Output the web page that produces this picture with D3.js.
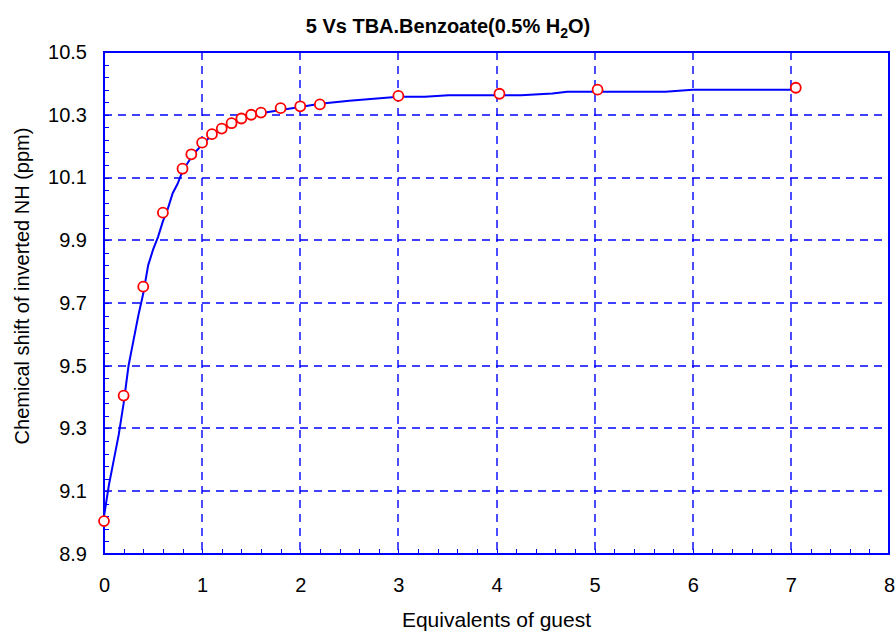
<!DOCTYPE html>
<html lang="en">
<head>
  <meta charset="UTF-8">
  <title>5 Vs TBA.Benzoate</title>
  <style>
    body { margin: 0; background: #fff; }
    text { font-family: Arial, "Liberation Sans", sans-serif; }
  </style>
</head>
<body>
  <script src="https://d3js.org/d3.v7.min.js"></script>
  <svg id="chart" width="896" height="635"></svg>
  <script>
    // observed titration points
    const obsX = [0, 0.2, 0.4, 0.6, 0.8, 0.89, 1.0, 1.1, 1.2, 1.3, 1.4, 1.5, 1.6, 1.8, 2.0, 2.2, 3.0, 4.03, 5.03, 7.05];
    const obsY = [9.005, 9.405, 9.752, 9.988, 10.128, 10.174, 10.211, 10.238, 10.256, 10.273, 10.288, 10.300, 10.307, 10.321, 10.327, 10.333, 10.360, 10.367, 10.380, 10.386];

    // fitted curve
    const fitX = [0, 0.05, 0.1, 0.15, 0.2, 0.25, 0.3, 0.35, 0.4, 0.45, 0.5, 0.55, 0.6, 0.65, 0.7, 0.75, 0.8, 0.9, 1.0, 1.1, 1.2, 1.3, 1.4, 1.5, 1.6, 1.8, 2.0, 2.2, 2.5, 3.0, 3.27, 3.51, 4.25, 4.57, 4.72, 5.72, 6.0, 7.05];
    const fitY = [9.02, 9.12, 9.2, 9.28, 9.38, 9.5, 9.58, 9.66, 9.73, 9.82, 9.87, 9.91, 9.96, 10.0, 10.05, 10.08, 10.12, 10.17, 10.205, 10.235, 10.255, 10.27, 10.285, 10.295, 10.305, 10.315, 10.325, 10.335, 10.345, 10.357, 10.357, 10.362, 10.362, 10.368, 10.373, 10.373, 10.38, 10.38];

    const xTicks = [0, 1, 2, 3, 4, 5, 6, 7, 8];
    const yTicks = [8.9, 9.1, 9.3, 9.5, 9.7, 9.9, 10.1, 10.3, 10.5];

    const blue = "#0000ff";
    const margin = { top: 52, right: 7, bottom: 81, left: 104 };
    const W = 896, H = 635;
    const width = W - margin.left - margin.right;
    const height = H - margin.top - margin.bottom;
    const fontFam = "Arial, 'Liberation Sans', sans-serif";

    const svg = d3.select("svg#chart");
    const g = svg.append("g")
      .attr("transform", "translate(" + margin.left + "," + margin.top + ")");

    const x = d3.scaleLinear().domain([0, 8]).range([0, width]);
    const y = d3.scaleLinear().domain([8.9, 10.5]).range([height, 0]);
    const px = v => Math.round(v) + 0.5;

    // dashed grid
    g.selectAll(".vgrid")
      .data(xTicks.slice(1, -1))
      .enter().append("line")
      .attr("x1", d => Math.round(x(d))).attr("x2", d => Math.round(x(d)))
      .attr("y1", 0).attr("y2", height)
      .attr("stroke", blue).attr("stroke-width", 1.4)
      .attr("stroke-dasharray", "8,6");

    g.selectAll(".hgrid")
      .data(yTicks.slice(1, -1))
      .enter().append("line")
      .attr("x1", 0).attr("x2", width)
      .attr("y1", d => Math.round(y(d))).attr("y2", d => Math.round(y(d)))
      .attr("stroke", blue).attr("stroke-width", 1.4)
      .attr("stroke-dasharray", "8,6");

    // minor ticks, inward
    const xMinor = d3.range(0, 8.0001, 0.2);
    const yMinor = d3.range(8.9, 10.5001, 0.04);
    g.selectAll(".xminor")
      .data(xMinor)
      .enter().append("line")
      .attr("x1", d => px(x(d))).attr("x2", d => px(x(d)))
      .attr("y1", height).attr("y2", height - 5)
      .attr("stroke", blue).attr("stroke-width", 1);
    g.selectAll(".yminor")
      .data(yMinor)
      .enter().append("line")
      .attr("x1", 0).attr("x2", 5)
      .attr("y1", d => px(y(d))).attr("y2", d => px(y(d)))
      .attr("stroke", blue).attr("stroke-width", 1);

    // frame
    g.append("rect")
      .attr("width", width).attr("height", height)
      .attr("fill", "none").attr("stroke", blue).attr("stroke-width", 2);

    // tick labels (frame draws the axis lines)
    const xAxis = g.append("g")
      .attr("transform", "translate(0," + height + ")")
      .call(d3.axisBottom(x).tickValues(xTicks).tickSize(0).tickPadding(24).tickFormat(d3.format("d")));
    xAxis.select(".domain").remove();
    xAxis.selectAll("text").attr("font-size", 20).attr("fill", "#000").attr("font-family", fontFam);

    const yAxis = g.append("g")
      .call(d3.axisLeft(y).tickValues(yTicks).tickSize(0).tickPadding(17).tickFormat(d3.format(".1f")));
    yAxis.select(".domain").remove();
    yAxis.selectAll("text").attr("font-size", 20).attr("fill", "#000").attr("font-family", fontFam);

    // fitted line
    const line = d3.line().x(d => x(d[0])).y(d => y(d[1]));
    g.append("path")
      .datum(fitX.map((v, i) => [v, fitY[i]]))
      .attr("d", line)
      .attr("fill", "none").attr("stroke", blue).attr("stroke-width", 2);

    // observed points
    g.selectAll(".pt")
      .data(obsX.map((v, i) => [v, obsY[i]]))
      .enter().append("circle")
      .attr("cx", d => x(d[0])).attr("cy", d => y(d[1]))
      .attr("r", 5)
      .attr("fill", "#fff").attr("stroke", "#ff0000").attr("stroke-width", 1.8);

    // title
    const title = svg.append("text")
      .attr("x", 448).attr("y", 33)
      .attr("text-anchor", "middle")
      .attr("font-size", 20).attr("font-weight", "bold");
    title.append("tspan").text("5 Vs TBA.Benzoate(0.5% H");
    title.append("tspan").attr("font-size", 14).attr("dy", 5).text("2");
    title.append("tspan").attr("dy", -5).text("O)");

    // axis titles
    svg.append("text")
      .attr("x", margin.left + width / 2).attr("y", 627)
      .attr("text-anchor", "middle").attr("font-size", 21)
      .text("Equivalents of guest");

    svg.append("text")
      .attr("transform", "translate(29,286) rotate(-90)")
      .attr("text-anchor", "middle").attr("font-size", 20)
      .text("Chemical shift of inverted NH (ppm)");
  </script>
</body>
</html>
